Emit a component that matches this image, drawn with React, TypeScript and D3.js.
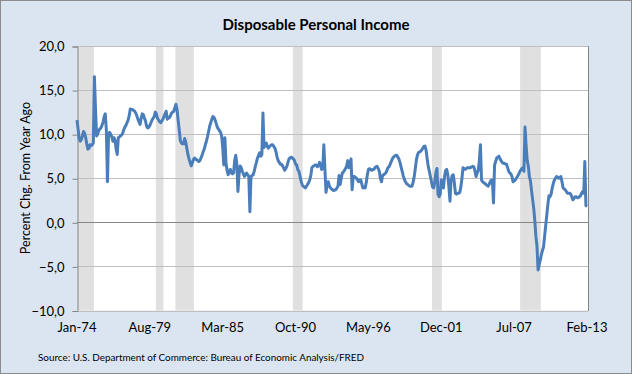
import React, { useEffect, useRef } from 'react'
import * as d3 from 'd3'

// monthly % change from year ago, Jan-74 .. Feb-13
const dpi1970s = [
  11.6, 10.6, 9.5, 9.2, 9.4, 9.8, 10.3, 10.1, 9.6, 8.9, 8.3, 8.4,
  8.8, 8.7, 8.8, 9.0, 16.5, 13.0, 9.8, 10.0, 10.4, 10.6, 10.7, 11.0,
  11.4, 12.0, 12.3, 10.5, 4.6, 9.8, 10.2, 10.0, 9.7, 9.2, 9.6, 9.3,
  8.3, 7.7, 9.6, 9.7, 9.8, 9.9, 10.1, 10.5, 10.8, 11.0, 11.3, 11.6,
  12.1, 12.85, 12.8, 12.8, 12.7, 12.6, 12.4, 12.1, 11.7, 11.4, 11.1, 11.8,
  12.3, 12.2, 11.8, 11.5, 10.9, 10.7, 10.8, 11.0, 11.3, 11.6, 11.8, 12.0,
]
const dpi1980s = [
  12.5, 12.3, 11.8, 11.6, 11.4, 11.3, 11.5, 11.7, 12.0, 12.3, 12.6, 11.7,
  11.8, 11.9, 12.1, 12.4, 12.5, 12.6, 13.0, 13.4, 12.8, 11.6, 10.5, 9.3,
  9.0, 8.9, 8.9, 9.5, 9.1, 8.4, 7.7, 7.2, 6.8, 6.4, 6.7, 7.1,
  7.3, 7.2, 7.1, 7.0, 6.9, 7.0, 7.3, 7.6, 8.0, 8.3, 8.8, 9.2,
  9.7, 10.3, 10.9, 11.3, 11.7, 12.0, 11.9, 11.6, 11.2, 10.8, 10.6, 10.4,
  10.2, 9.8, 8.5, 6.5, 9.6, 6.8, 5.9, 5.4, 5.7, 6.0, 5.6, 5.5,
  5.6, 7.0, 7.6, 6.6, 3.5, 5.4, 6.4, 6.2, 5.8, 5.5, 5.2, 5.4,
  5.6, 5.4, 5.2, 1.2, 5.2, 5.3, 5.4, 5.8, 6.35, 6.8, 7.3, 7.6,
  7.9, 7.5, 7.7, 12.4, 8.5, 8.8, 9.0, 8.6, 8.4, 8.6, 8.7, 8.8,
  8.8, 8.6, 8.4, 8.0, 7.4, 7.0, 6.8, 6.6, 6.6, 6.4, 6.2, 5.9,
]
const dpi1990s = [
  6.1, 6.35, 6.8, 7.2, 7.3, 7.4, 7.3, 7.2, 7.0, 6.6, 6.5, 6.0,
  5.8, 5.3, 4.7, 4.3, 4.1, 4.0, 3.9, 4.1, 4.3, 4.5, 4.8, 5.3,
  6.2, 6.35, 6.4, 6.5, 6.5, 6.3, 6.4, 6.8, 6.5, 6.0, 6.2, 8.8,
  6.0, 3.4, 4.2, 4.6, 4.2, 3.9, 3.8, 3.7, 3.6, 3.65, 3.7, 3.9,
  4.1, 5.3, 4.3, 5.0, 5.6, 5.7, 5.9, 6.1, 6.4, 7.0, 6.2, 6.5,
  7.2, 3.7, 5.2, 5.2, 5.1, 5.0, 4.8, 4.6, 4.8, 4.8, 4.3, 3.9,
  4.0, 3.9, 4.5, 5.4, 6.0, 6.1, 6.0, 5.9, 6.0, 6.0, 6.2, 6.3,
  6.35, 6.1, 5.8, 5.0, 4.6, 5.3, 5.4, 5.5, 5.6, 5.9, 6.2, 6.3,
  6.6, 6.9, 7.2, 7.4, 7.5, 7.6, 7.6, 7.4, 7.2, 6.8, 6.3, 5.8,
  5.3, 4.9, 4.6, 4.4, 4.3, 4.2, 4.1, 4.1, 4.1, 4.5, 5.1, 6.0,
]
const dpi2000s = [
  7.0, 7.6, 7.9, 8.0, 8.05, 8.2, 8.4, 8.6, 8.65, 8.2, 7.2, 6.35,
  5.8, 5.2, 4.6, 4.0, 3.9, 4.6, 5.6, 6.1, 3.2, 2.9, 3.2, 4.8,
  4.5, 3.9, 5.2, 5.9, 6.0, 5.4, 4.0, 2.4, 4.8, 5.3, 5.4, 4.5,
  3.3, 3.2, 3.3, 3.3, 3.4, 4.0, 5.0, 6.2, 6.1, 6.0, 6.1, 6.2,
  6.2, 6.2, 6.2, 6.3, 6.35, 6.3, 5.8, 5.2, 5.6, 5.9, 7.0, 8.8,
  4.8, 4.6, 4.5, 4.4, 4.3, 4.2, 4.1, 4.3, 4.6, 4.8, 4.7, 2.2,
  6.5, 6.9, 7.3, 7.4, 7.5, 7.2, 7.0, 6.8, 6.7, 6.7, 6.6, 6.6,
  6.2, 5.8, 5.6, 5.5, 5.2, 4.6, 4.7, 4.8, 5.0, 5.2, 5.4, 5.7,
  5.9, 6.1, 6.2, 5.8, 10.8, 8.7, 7.0, 6.4, 5.2, 4.7, 3.6, 2.6,
  1.6, 0.2, -1.6, -2.7, -5.4, -4.8, -4.3, -3.7, -3.2, -2.8, -1.6, -0.4,
]
const dpi2010s = [
  0.8, 2.0, 3.0, 2.9, 3.2, 3.9, 4.4, 4.8, 5.0, 5.2, 5.1, 5.0,
  5.1, 5.2, 4.6, 3.9, 3.8, 3.7, 3.5, 3.3, 3.3, 3.3, 3.2, 2.9,
  2.55, 2.7, 2.9, 2.9, 2.8, 2.8, 2.9, 3.0, 3.3, 3.5, 3.3, 6.9,
  1.9, 1.8,
]

const xLabels = ['Jan-74', 'Aug-79', 'Mar-85', 'Oct-90', 'May-96', 'Dec-01', 'Jul-07', 'Feb-13']
const xLabelStep = 67
const yTicks = [-10, -5, 0, 5, 10, 15, 20]

// recessions as [first month, last month], months counted from Jan-74
const recessionStart = [-2, 72, 90, 198, 326, 407]
const recessionEnd = [14, 78, 106, 206, 334, 425]

const font = 'Lato, "Open Sans", sans-serif'

export default function App() {
  const ref = useRef<SVGSVGElement>(null)

  useEffect(() => {
    const data = [...dpi1970s, ...dpi1980s, ...dpi1990s, ...dpi2000s, ...dpi2010s]
    const svg = d3.select(ref.current)
    svg.selectAll('*').remove()

    const left = 77, right = 588, top = 46, bottom = 310.5

    const x = d3.scaleLinear().domain([0, data.length - 1]).range([left, right - 1])
    const y = d3.scaleLinear().domain([-10, 20]).range([bottom, top])

    svg.append('rect')
      .attr('x', 0.5).attr('y', 0.5).attr('width', 631).attr('height', 373)
      .attr('fill', '#dbe5f1').attr('stroke', '#8c8c8c')

    svg.append('rect')
      .attr('x', left).attr('y', top).attr('width', right - left).attr('height', bottom - top)
      .attr('fill', '#fff')

    // recession bars
    svg.append('g').selectAll('rect')
      .data(recessionStart.map((s, i) => [Math.max(0, s + 0.5), recessionEnd[i] + 1.5]))
      .enter()
      .append('rect')
      .attr('x', d => Math.max(left, x(d[0])))
      .attr('width', d => x(d[1]) - Math.max(left, x(d[0])))
      .attr('y', top).attr('height', bottom - top)
      .attr('fill', '#e0e0e0')

    // gridlines
    svg.append('g').selectAll('line')
      .data(yTicks)
      .enter()
      .append('line')
      .attr('x1', left).attr('x2', right)
      .attr('y1', d => Math.round(y(d)) + 0.5).attr('y2', d => Math.round(y(d)) + 0.5)
      .attr('stroke', d => d === 0 ? '#868686' : '#bfbfbf')

    svg.append('line')
      .attr('x1', right + 0.5).attr('x2', right + 0.5).attr('y1', top).attr('y2', bottom + 0.5)
      .attr('stroke', '#868686')

    const yAxis = svg.append('g')
      .attr('transform', `translate(${left + 0.5},0.5)`)
      .call(d3.axisLeft(y).tickValues(yTicks).tickSize(5).tickPadding(8)
        .tickFormat(d => d3.format('.1f')(d as number).replace('.', ',')))
    yAxis.selectAll('path,line').attr('stroke', '#868686')
    yAxis.selectAll('text')
      .attr('font-family', font).attr('font-size', 13).attr('fill', '#000')

    svg.append('g').selectAll('text')
      .data(xLabels)
      .enter()
      .append('text')
      .attr('x', (d, i) => x(i * xLabelStep))
      .attr('y', 332)
      .attr('text-anchor', 'middle')
      .attr('font-family', font).attr('font-size', 13)
      .text(d => d)

    const line = d3.line<number>()
      .x((d, i) => x(i))
      .y(d => y(d))
    svg.append('path')
      .datum(data)
      .attr('d', line)
      .attr('fill', 'none')
      .attr('stroke', '#4a7ebb')
      .attr('stroke-width', 3)
      .attr('stroke-linejoin', 'round')

    svg.append('text')
      .attr('x', 316).attr('y', 30)
      .attr('text-anchor', 'middle')
      .attr('font-family', font).attr('font-size', 15).attr('font-weight', 'bold')
      .attr('textLength', 187).attr('lengthAdjust', 'spacingAndGlyphs')
      .text('Disposable Personal Income')

    svg.append('text')
      .attr('transform', `translate(30,178) rotate(-90)`)
      .attr('text-anchor', 'middle')
      .attr('font-family', font).attr('font-size', 12.5)
      .text('Percent Chg. From Year Ago')

    svg.append('text')
      .attr('x', 38).attr('y', 361)
      .attr('font-family', font).attr('font-size', 10)
      .attr('textLength', 326).attr('lengthAdjust', 'spacingAndGlyphs')
      .text('Source: U.S. Department of Commerce: Bureau of Economic Analysis/FRED')
  }, [])

  return (
    <svg ref={ref} width={632} height={374}
      style={{ position: 'absolute', left: 0, top: 0, display: 'block' }} />
  )
}
